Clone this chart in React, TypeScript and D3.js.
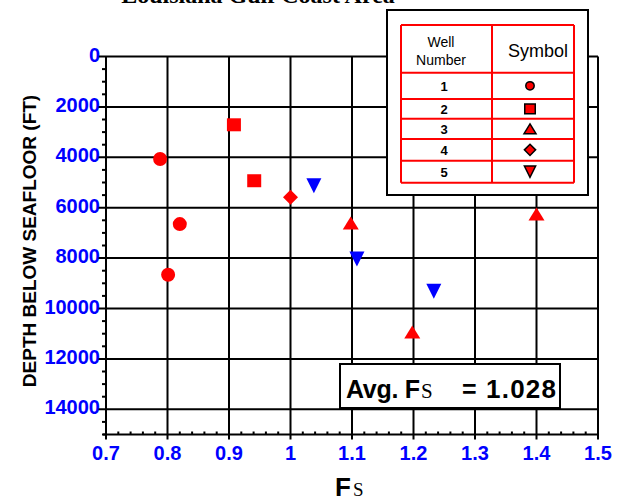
import React from "react";
import * as d3 from "d3";

// values
const wellNumbers = ["1", "2", "3", "4", "5"];
const wellShapes = ["circle", "square", "triangle", "diamond", "triangleDown"];
const wellColors = ["#ff0000", "#ff0000", "#ff0000", "#ff0000", "#0000ff"];

const well1Fs = [0.788, 0.82, 0.801];
const well1Depth = [4070, 6650, 8660];
const well2Fs = [0.908, 0.941];
const well2Depth = [2710, 4930];
const well3Fs = [1.098, 1.198, 1.4];
const well3Depth = [6610, 10930, 6250];
const well4Fs = [1.0];
const well4Depth = [5590];
const well5Fs = [1.038, 1.108, 1.233];
const well5Depth = [5130, 8040, 9320];

const xTicks = [0.7, 0.8, 0.9, 1, 1.1, 1.2, 1.3, 1.4, 1.5];
const yTicks = [0, 2000, 4000, 6000, 8000, 10000, 12000, 14000];
const avgFs = "1.028";

const W = 626;
const H = 502;
const sans = "'Liberation Sans', Arial, sans-serif";
const serif = "'Liberation Serif', 'Times New Roman', serif";

const symbolPath = (shape: string, cx: number, cy: number, k: number) => {
  if (shape === "circle") {
    const r = 7 * k;
    return `M${cx - r},${cy}a${r},${r} 0 1,0 ${2 * r},0a${r},${r} 0 1,0 ${-2 * r},0Z`;
  }
  if (shape === "square") {
    const w = 7 * k, h = 6.5 * k;
    return `M${cx - w},${cy - h}H${cx + w}V${cy + h}H${cx - w}Z`;
  }
  if (shape === "diamond") {
    const r = 7.5 * k;
    return `M${cx},${cy - r}L${cx + r},${cy}L${cx},${cy + r}L${cx - r},${cy}Z`;
  }
  if (shape === "triangle") {
    const w = 8 * k, h = 6.5 * k;
    return `M${cx},${cy - h}L${cx + w},${cy + h}L${cx - w},${cy + h}Z`;
  }
  const w = 7.5 * k, h = 7.5 * k;
  return `M${cx - w},${cy - h}L${cx + w},${cy - h}L${cx},${cy + h}Z`;
};

const App = () => {
  const x = d3.scaleLinear().domain([0.7, 1.5]).range([106, 598]);
  const y = d3.scaleLinear().domain([0, 15000]).range([56.5, 434.5]);

  const series = [
    { fs: well1Fs, depth: well1Depth },
    { fs: well2Fs, depth: well2Depth },
    { fs: well3Fs, depth: well3Depth },
    { fs: well4Fs, depth: well4Depth },
    { fs: well5Fs, depth: well5Depth },
  ];

  const yMinor = d3.range(0, 15001, 500).filter(v => v % 2000 !== 0);
  const xMinor = d3.range(0, 41).map(i => 0.7 + i * 0.02).filter((v, i) => i % 5 !== 0);

  // legend table geometry
  const legLeft = 401, legMid = 492, legRight = 574;
  const rowLines = [25, 72.7, 99, 118.7, 139, 160.7, 182.7];

  return (
    <svg width={W} height={H} style={{ position: "absolute", left: 0, top: 0, background: "#fff" }}>
      {/* title, cut off at the top edge */}
      <text x={258} y={3} textAnchor="middle" fontFamily={serif} fontWeight="bold" fontSize={24}>
        Louisiana Gulf Coast Area
      </text>

      {/* grid */}
      {yTicks.map(t => (
        <line key={"gy" + t} x1={98} x2={x(1.5)} y1={y(t)} y2={y(t)} stroke="#000" strokeWidth={2} />
      ))}
      {xTicks.map(t => (
        <line key={"gx" + t} x1={x(t)} x2={x(t)} y1={y(0)} y2={y(15000) + 5} stroke="#000" strokeWidth={2} />
      ))}
      <line x1={x(0.7)} x2={x(0.7)} y1={y(0)} y2={y(15000) + 3} stroke="#000" strokeWidth={2} />
      <line x1={x(0.7) - 3} x2={x(1.5) + 1} y1={y(15000)} y2={y(15000)} stroke="#000" strokeWidth={2} />
      {yMinor.map(t => (
        <line key={"my" + t} x1={x(0.7) - 4} x2={x(0.7)} y1={y(t)} y2={y(t)} stroke="#000" strokeWidth={2} />
      ))}
      {xMinor.map(t => (
        <line key={"mx" + t} x1={x(t)} x2={x(t)} y1={y(15000) - 3} y2={y(15000)} stroke="#000" strokeWidth={2} />
      ))}

      {/* tick labels */}
      {yTicks.map(t => (
        <text key={"ly" + t} x={100} y={y(t) + 5} textAnchor="end" fill="#0000ff" fontFamily={sans}
          fontWeight="bold" fontSize={20}>{t}</text>
      ))}
      {xTicks.map(t => (
        <text key={"lx" + t} x={x(t)} y={460} textAnchor="middle" fill="#0000ff" fontFamily={sans}
          fontWeight="bold" fontSize={20}>{d3.format("")(t)}</text>
      ))}

      {/* axis titles */}
      <text transform="translate(36,241) rotate(-90)" textAnchor="middle" fontFamily={sans}
        fontWeight="bold" fontSize={19}>DEPTH BELOW SEAFLOOR (FT)</text>
      <text x={335} y={496} fontFamily={sans}>
        <tspan fontWeight="bold" fontSize={26}>F</tspan>
        <tspan dx={2} fontFamily={serif} fontSize={19}>S</tspan>
      </text>

      {/* data */}
      {series.map((s, i) =>
        s.fs.map((f, j) => (
          <path key={`p${i}-${j}`} d={symbolPath(wellShapes[i], x(f), y(s.depth[j]), 1)} fill={wellColors[i]} />
        ))
      )}

      {/* legend */}
      <rect x={387} y={10} width={201} height={185} fill="#fff" stroke="#000" strokeWidth={2} />
      {rowLines.map(r => (
        <line key={"r" + r} x1={legLeft} x2={legRight} y1={r} y2={r} stroke="#ff0000" strokeWidth={2} />
      ))}
      {[legLeft, legMid, legRight].map(c => (
        <line key={"c" + c} x1={c} x2={c} y1={25} y2={182.7} stroke="#ff0000" strokeWidth={2} />
      ))}
      <text x={441} y={47} textAnchor="middle" fontFamily={sans} fontSize={14}>Well</text>
      <text x={441} y={65} textAnchor="middle" fontFamily={sans} fontSize={14}>Number</text>
      <text x={538} y={57} textAnchor="middle" fontFamily={sans} fontSize={18}>Symbol</text>
      {wellNumbers.map((n, i) => {
        const cy = (rowLines[i + 1] + rowLines[i + 2]) / 2;
        return (
          <g key={"leg" + n}>
            <text x={444} y={cy + 5} textAnchor="middle" fontFamily={sans} fontWeight="bold" fontSize={13}>{n}</text>
            <path d={symbolPath(wellShapes[i], 530, cy, i === 0 ? 0.6 : 0.75)} fill="#ff0000" stroke="#000"
              strokeWidth={1.5} />
          </g>
        );
      })}

      {/* average box */}
      <rect x={340} y={364} width={220} height={44} fill="#fff" stroke="#000" strokeWidth={2} />
      <text x={346} y={398} fontFamily={sans} fontWeight="bold" fontSize={25} textLength={74}>Avg. F</text>
      <text x={421} y={398} fontFamily={serif} fontSize={21}>S</text>
      <text x={462} y={398} fontFamily={sans} fontWeight="bold" fontSize={25}>=</text>
      <text x={486} y={398} fontFamily={sans} fontWeight="bold" fontSize={26} textLength={70}>{avgFs}</text>
    </svg>
  );
};

export default App;
